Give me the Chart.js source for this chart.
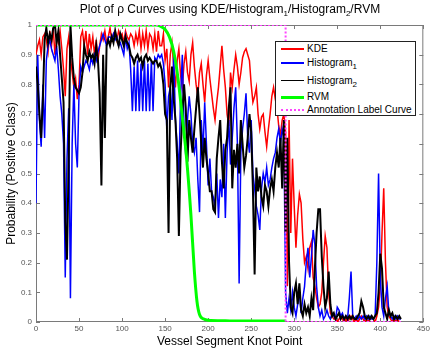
<!DOCTYPE html>
<html>
<head>
<meta charset="utf-8">
<script src="https://cdn.jsdelivr.net/npm/chart.js@4/dist/chart.umd.min.js"></script>
<style>
  body { margin: 0; background: #fff; }
  #wrap { position: relative; width: 432px; height: 352px; font-family: "Liberation Sans", Arial, sans-serif; }
  #title { position: absolute; left: 36px; width: 388px; top: 2px; text-align: center; font-size: 12px; line-height: 14px; color: #000; white-space: nowrap; }
  #title sub, #legend sub { font-size: 8px; vertical-align: -3px; line-height: 0; }
  #legend { position: absolute; left: 275px; top: 41px; width: 141px; height: 75px; box-sizing: border-box; border: 1px solid #222; background: #fff; }
  #legend .row { position: absolute; left: 0; height: 0; }
  #legend .swatch { position: absolute; left: 5px; width: 23px; }
  #legend .label { position: absolute; left: 31px; top: -7px; font-size: 10px; line-height: 13px; white-space: nowrap; color: #000; }
</style>
</head>
<body>
<div id="wrap">
  <canvas id="rho-chart" width="432" height="352"></canvas>
  <div id="title">Plot of &rho; Curves using KDE/Histogram<sub>1</sub>/Histogram<sub>2</sub>/RVM</div>
  <div id="legend">
    <div class="row" style="top:7px"><div class="swatch" style="top:-1px;border-top:2px solid #ff0000"></div><div class="label">KDE</div></div>
    <div class="row" style="top:21px"><div class="swatch" style="top:-1px;border-top:2px solid #0000ff"></div><div class="label">Histogram<sub>1</sub></div></div>
    <div class="row" style="top:39px"><div class="swatch" style="top:-1px;border-top:1.5px solid #000"></div><div class="label">Histogram<sub>2</sub></div></div>
    <div class="row" style="top:55px"><div class="swatch" style="top:-1.5px;border-top:3px solid #00ff00"></div><div class="label">RVM</div></div>
    <div class="row" style="top:68px"><div class="swatch" style="top:-1px;border-top:2px dotted #ff44ff"></div><div class="label">Annotation Label Curve</div></div>
  </div>
</div>
<script>
// knot points 0..424, every second knot
const knots = Array.from({ length: 213 }, (_, i) => i * 2);

const kde = [
  0.90, 0.93, 0.95, 0.90, 0.96, 0.97, 0.95, 0.91, 0.98, 0.93,
  0.99, 0.90, 0.96, 0.94, 0.98, 0.92, 0.85, 0.76, 0.92, 0.96,
  0.89, 0.84, 0.79, 0.82, 0.75, 0.80, 0.96, 0.98, 0.93, 0.98,
  0.90, 0.97, 0.92, 0.96, 0.90, 0.95, 0.88, 0.93, 0.97, 0.95,
  0.98, 0.94, 0.96, 0.99, 0.95, 0.97, 0.98, 0.95, 0.98, 0.96,
  0.97, 0.94, 0.98, 0.96, 0.95, 0.97, 0.96, 0.93, 0.97, 0.94,
  0.98, 0.92, 0.97, 0.93, 0.98, 0.92, 0.97, 0.96, 0.92, 0.97,
  0.91, 0.98, 0.93, 0.93, 0.97, 0.88, 0.92, 0.79, 0.90, 0.94,
  0.86, 0.79, 0.88, 0.92, 0.83, 0.79, 0.87, 0.91, 0.84, 0.81,
  0.90, 0.94, 0.86, 0.80, 0.76, 0.84, 0.87, 0.80, 0.74, 0.83,
  0.88, 0.82, 0.77, 0.72, 0.68, 0.74, 0.79, 0.86, 0.93, 0.85,
  0.79, 0.70, 0.66, 0.84, 0.79, 0.85, 0.90, 0.86, 0.80, 0.84,
  0.89, 0.91, 0.92, 0.90, 0.88, 0.80, 0.74, 0.76, 0.79, 0.70,
  0.65, 0.69, 0.70, 0.64, 0.59, 0.65, 0.70, 0.76, 0.79, 0.75,
  0.72, 0.66, 0.63, 0.68, 0.70, 0.64, 0.12, 0.68, 0.30, 0.55,
  0.39, 0.25, 0.36, 0.43, 0.40, 0.28, 0.20, 0.22, 0.18, 0.25,
  0.27, 0.15, 0.12, 0.08, 0.05, 0.06, 0.10, 0.20, 0.29, 0.25,
  0.10, 0.03, 0.02, 0.01, 0.01, 0.00, 0.01, 0.02, 0.01, 0.00,
  0.01, 0.00, 0.01, 0.02, 0.01, 0.00, 0.01, 0.00, 0.01, 0.02,
  0.01, 0.00, 0.01, 0.00, 0.01, 0.02, 0.01, 0.00, 0.02, 0.05,
  0.12, 0.30, 0.45, 0.20, 0.05, 0.02, 0.01, 0.00, 0.01, 0.00,
  0.01, 0.00, 0.00
];

const histogram1 = [
  0.40, 0.90, 0.68, 0.59, 0.80, 0.62, 0.88, 0.93, 0.95, 0.92,
  0.90, 0.88, 0.93, 0.85, 0.76, 0.70, 0.60, 0.15, 0.55, 0.72,
  0.08, 0.60, 0.80, 0.60, 0.52, 0.77, 0.86, 0.84, 0.86, 0.88,
  0.87, 0.85, 0.89, 0.87, 0.90, 0.88, 0.91, 0.93, 0.95, 0.97,
  0.95, 0.93, 0.96, 0.96, 0.95, 0.97, 0.95, 0.96, 0.93, 0.94,
  0.92, 0.90, 0.96, 0.92, 0.94, 0.85, 0.71, 0.86, 0.71, 0.88,
  0.71, 0.87, 0.71, 0.88, 0.71, 0.87, 0.71, 0.88, 0.71, 0.89,
  0.88, 0.90, 0.89, 0.90, 0.87, 0.80, 0.65, 0.76, 0.79, 0.68,
  0.90, 0.68, 0.60, 0.50, 0.76, 0.90, 0.65, 0.56, 0.68, 0.76,
  0.70, 0.60, 0.57, 0.62, 0.48, 0.37, 0.68, 0.57, 0.74, 0.60,
  0.46, 0.55, 0.44, 0.42, 0.39, 0.50, 0.35, 0.48, 0.42, 0.60,
  0.35, 0.57, 0.68, 0.53, 0.62, 0.72, 0.79, 0.60, 0.13, 0.57,
  0.65, 0.70, 0.77, 0.62, 0.57, 0.68, 0.50, 0.45, 0.39, 0.36,
  0.31, 0.45, 0.50, 0.47, 0.52, 0.46, 0.48, 0.52, 0.55, 0.57,
  0.62, 0.65, 0.60, 0.65, 0.62, 0.10, 0.03, 0.08, 0.04, 0.10,
  0.05, 0.02, 0.06, 0.10, 0.03, 0.08, 0.12, 0.20, 0.25, 0.15,
  0.22, 0.31, 0.26, 0.12, 0.05, 0.02, 0.04, 0.01, 0.02, 0.04,
  0.02, 0.01, 0.03, 0.02, 0.01, 0.05, 0.04, 0.02, 0.03, 0.01,
  0.02, 0.01, 0.08, 0.17, 0.02, 0.01, 0.02, 0.01, 0.02, 0.01,
  0.02, 0.01, 0.02, 0.01, 0.02, 0.01, 0.01, 0.02, 0.20, 0.50,
  0.15, 0.05, 0.02, 0.08, 0.12, 0.03, 0.02, 0.01, 0.02, 0.01,
  0.02, 0.01, 0.01
];

const histogram2 = [
  0.86, 0.80, 0.70, 0.62, 0.75, 0.95, 0.99, 0.94, 0.97, 0.95,
  0.99, 1.00, 0.94, 0.98, 0.90, 0.82, 0.74, 0.34, 0.21, 0.55,
  1.00, 0.89, 0.82, 0.79, 0.78, 0.77, 0.79, 0.84, 0.93, 0.90,
  0.88, 0.91, 0.89, 0.90, 0.87, 0.93, 0.88, 0.77, 0.46, 0.90,
  0.62, 0.93, 0.95, 0.93, 0.96, 0.94, 0.98, 0.95, 0.93, 0.97,
  0.95, 0.93, 0.96, 0.94, 0.93, 0.90, 0.89, 0.87, 0.89, 0.90,
  0.88, 0.89, 0.86, 0.89, 0.90, 0.88, 0.89, 0.88, 0.87, 0.88,
  0.88, 0.86, 0.87, 0.85, 0.80, 0.70, 0.68, 0.30, 0.79, 0.86,
  0.75, 0.68, 0.55, 0.29, 0.57, 0.70, 0.80, 0.72, 0.54, 0.68,
  0.62, 0.57, 0.65, 0.72, 0.79, 0.70, 0.60, 0.52, 0.62, 0.55,
  0.50, 0.44, 0.44, 0.38, 0.37, 0.55, 0.62, 0.68, 0.54, 0.45,
  0.58, 0.62, 0.72, 0.79, 0.45, 0.58, 0.52, 0.60, 0.50, 0.68,
  0.60, 0.52, 0.56, 0.62, 0.70, 0.64, 0.45, 0.16, 0.52, 0.44,
  0.49, 0.42, 0.39, 0.46, 0.44, 0.39, 0.45, 0.48, 0.44, 0.52,
  0.57, 0.52, 0.62, 0.45, 0.68, 0.30, 0.62, 0.20, 0.05, 0.03,
  0.10, 0.13, 0.06, 0.13, 0.04, 0.02, 0.06, 0.03, 0.05, 0.02,
  0.08, 0.04, 0.18, 0.30, 0.38, 0.38, 0.22, 0.12, 0.05, 0.08,
  0.17, 0.06, 0.02, 0.03, 0.01, 0.02, 0.03, 0.01, 0.02, 0.01,
  0.02, 0.01, 0.02, 0.01, 0.02, 0.01, 0.01, 0.02, 0.03, 0.07,
  0.05, 0.02, 0.01, 0.02, 0.01, 0.02, 0.01, 0.02, 0.03, 0.10,
  0.23, 0.18, 0.05, 0.03, 0.01, 0.04, 0.02, 0.03, 0.01, 0.02,
  0.01, 0.02, 0.01
];

// RVM is smooth, so fewer knots are enough
const rvmKnots = [0, 140, 145, 150, 155, 160, 165, 170, 175, 180, 184, 187, 190, 195, 200, 220, 250, 290];
const rvm = [1.0, 1.0, 0.995, 0.985, 0.96, 0.91, 0.82, 0.69, 0.55, 0.36, 0.17, 0.07, 0.025, 0.01, 0.006, 0.004, 0.003, 0.003];

// annotation label: positive up to knot 290
const annotationKnots = [0, 290, 290, 425];
const annotation = [1, 1, 0, 0];

const xTicks = { min: 0, max: 450, step: 50 };
const yTicks = { min: 0, max: 1, step: 0.1 };

function toPoints(xs, ys) {
  return ys.map((v, i) => ({ x: xs[i], y: v }));
}

// MATLAB style axes box with inward tick marks
const boxTicks = {
  id: 'boxTicks',
  beforeDatasetsDraw(chart) {
    const { ctx, chartArea: a, scales: { x, y } } = chart;
    ctx.save();
    ctx.strokeStyle = '#7a7a7a';
    ctx.lineWidth = 1;
    ctx.strokeRect(a.left + 0.5, a.top + 0.5, a.width - 1, a.height - 1);
    ctx.beginPath();
    x.ticks.forEach(t => {
      const px = Math.round(x.getPixelForValue(t.value)) + 0.5;
      ctx.moveTo(px, a.bottom); ctx.lineTo(px, a.bottom - 4);
      ctx.moveTo(px, a.top); ctx.lineTo(px, a.top + 4);
    });
    y.ticks.forEach(t => {
      const py = Math.round(y.getPixelForValue(t.value)) + 0.5;
      ctx.moveTo(a.left, py); ctx.lineTo(a.left + 4, py);
      ctx.moveTo(a.right, py); ctx.lineTo(a.right - 4, py);
    });
    ctx.stroke();
    ctx.restore();
  }
};

Chart.defaults.font.family = '"Liberation Sans", Arial, sans-serif';

const ctx = document.getElementById('rho-chart').getContext('2d');
const rhoChart = new Chart(ctx, {
  type: 'line',
  data: {
    datasets: [
      {
        label: 'KDE',
        data: toPoints(knots, kde),
        borderColor: '#ff0000',
        borderWidth: 1.5,
        order: 5,
      },
      {
        label: 'Histogram1',
        data: toPoints(knots, histogram1),
        borderColor: '#0000ff',
        borderWidth: 1.5,
        order: 4,
      },
      {
        label: 'Histogram2',
        data: toPoints(knots, histogram2),
        borderColor: '#000000',
        borderWidth: 2,
        order: 3,
      },
      {
        label: 'RVM',
        data: toPoints(rvmKnots, rvm),
        borderColor: '#00ff00',
        borderWidth: 3,
        cubicInterpolationMode: 'monotone',
        order: 2,
      },
      {
        label: 'Annotation Label Curve',
        data: toPoints(annotationKnots, annotation),
        borderColor: '#ff44ff',
        borderWidth: 2,
        borderDash: [2, 2],
        order: 1,
      },
    ],
  },
  options: {
    responsive: false,
    animation: false,
    devicePixelRatio: 1,
    elements: { point: { radius: 0 }, line: { tension: 0 } },
    layout: { padding: { top: 25, right: 8, left: 0, bottom: 0 } },
    plugins: { legend: { display: false }, tooltip: { enabled: false } },
    scales: {
      x: {
        type: 'linear',
        min: xTicks.min,
        max: xTicks.max,
        grid: { display: false, drawTicks: false },
        border: { display: false },
        ticks: { stepSize: xTicks.step, autoSkip: false, maxRotation: 0, padding: 2, color: '#555', font: { size: 8 } },
        title: { display: true, text: 'Vessel Segment Knot Point', color: '#000', font: { size: 12 }, padding: { top: 0, bottom: 3 } },
        afterFit(scale) { scale.height = 30; },
      },
      y: {
        type: 'linear',
        min: yTicks.min,
        max: yTicks.max,
        grid: { display: false, drawTicks: false },
        border: { display: false },
        ticks: {
          stepSize: yTicks.step,
          padding: 4,
          color: '#555',
          font: { size: 8 },
          callback: v => String(Math.round(v * 10) / 10),
        },
        title: { display: true, text: 'Probability (Positive Class)', color: '#000', font: { size: 12 }, padding: { top: 4, bottom: 0 } },
        afterFit(scale) { scale.width = 36; },
      },
    },
  },
  plugins: [boxTicks],
});
</script>
</body>
</html>
